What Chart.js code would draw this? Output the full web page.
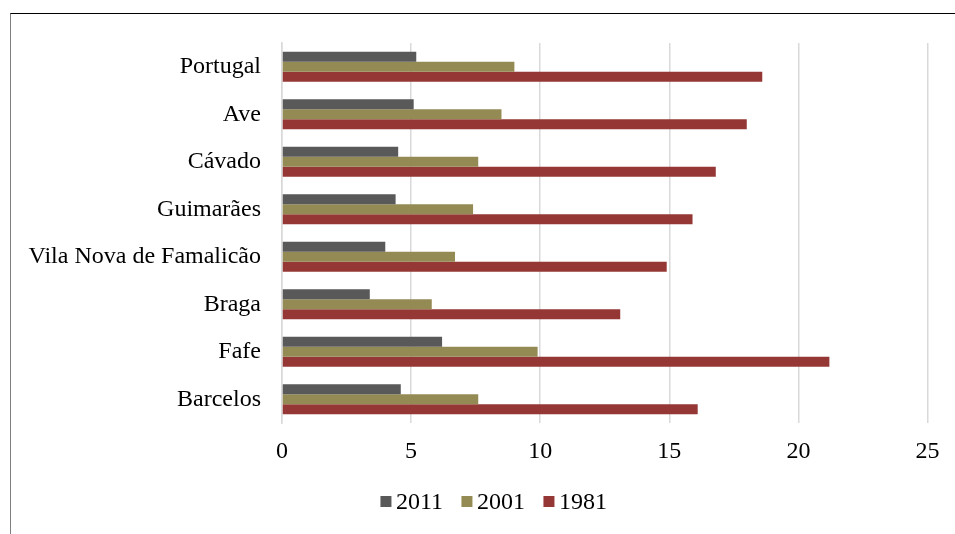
<!DOCTYPE html>
<html>
<head>
<meta charset="utf-8">
<script src="https://cdn.jsdelivr.net/npm/chart.js@4.4.1/dist/chart.umd.min.js"></script>
<style>
  html, body { margin: 0; padding: 0; background: #fff; overflow: hidden; }
  #frame {
    position: absolute;
    left: 10px;
    top: 13px;
    width: 944px;
    height: 521px;
    border-left: 1px solid #7f7f7f;
    border-top: 1px solid #000;
  }
  #myChart { display: block; }
  #legend {
    position: absolute;
    left: 493.5px;
    top: 489px;
    transform: translateX(-50%);
    font-family: "Liberation Serif", "Times New Roman", serif;
    font-size: 24px;
    line-height: 24px;
    color: #000;
  }
</style>
</head>
<body>
<div id="frame"><canvas id="myChart" width="944" height="521"></canvas></div>
<div id="legend"></div>
<script>
const regions = ['Portugal', 'Ave', 'Cávado', 'Guimarães', 'Vila Nova de Famalicão', 'Braga', 'Fafe', 'Barcelos'];
const years = ['2011', '2001', '1981'];
const values2011 = [5.2, 5.1, 4.5, 4.4, 4.0, 3.4, 6.2, 4.6];
const values2001 = [9.0, 8.5, 7.6, 7.4, 6.7, 5.8, 9.9, 7.6];
const values1981 = [18.6, 18.0, 16.8, 15.9, 14.9, 13.1, 21.2, 16.1];
const xTicks = [0, 5, 10, 15, 20, 25];

const colors = ['#595959', '#948A54', '#953735'];
const serif = '"Liberation Serif", "Times New Roman", serif';

// legend as plain html so the box/text spacing can be set freely
const htmlLegendPlugin = {
  id: 'htmlLegend',
  afterUpdate(chart) {
    const container = document.getElementById('legend');
    let ul = container.querySelector('ul');
    if (!ul) {
      ul = document.createElement('ul');
      ul.style.display = 'flex';
      ul.style.flexDirection = 'row';
      ul.style.margin = 0;
      ul.style.padding = 0;
      ul.style.listStyle = 'none';
      container.appendChild(ul);
    }
    while (ul.firstChild) {
      ul.firstChild.remove();
    }

    const items = chart.options.plugins.legend.labels.generateLabels(chart);
    items.forEach((item, i) => {
      const li = document.createElement('li');
      li.style.display = 'flex';
      li.style.alignItems = 'center';
      li.style.marginLeft = i === 0 ? '0' : '18px';

      const box = document.createElement('span');
      box.style.display = 'inline-block';
      box.style.width = '11px';
      box.style.height = '11px';
      box.style.marginRight = '5px';
      box.style.background = item.fillStyle;

      const text = document.createElement('span');
      text.textContent = item.text;

      li.appendChild(box);
      li.appendChild(text);
      ul.appendChild(li);
    });
  },
};

const data = {
  labels: regions,
  datasets: [values2011, values2001, values1981].map((vals, i) => ({
    label: years[i],
    data: vals,
    backgroundColor: colors[i],
    borderColor: colors[i],
    borderWidth: 0,
    categoryPercentage: 0.63,
    barPercentage: 1,
  })),
};

const config = {
  type: 'bar',
  data,
  options: {
    indexAxis: 'y',
    responsive: false,
    animation: false,
    events: [],
    layout: {
      padding: { left: 0, right: 27.5, top: 29, bottom: 52 },
    },
    scales: {
      x: {
        min: xTicks[0],
        max: xTicks[xTicks.length - 1],
        afterBuildTicks: (scale) => {
          scale.ticks = xTicks.map(v => ({ value: v }));
        },
        afterFit: (scale) => { scale.height = 60; },
        grid: {
          color: '#d9d9d9',
          lineWidth: 1.5,
          drawTicks: false,
        },
        border: { display: false },
        ticks: {
          padding: 14,
          maxRotation: 0,
          color: '#000',
          font: { family: serif, size: 24 },
        },
      },
      y: {
        afterFit: (scale) => {
          // fixed label column; labels sit inside the category bands
          scale.width = 271;
          scale.paddingTop = 0;
          scale.paddingBottom = 0;
        },
        grid: { display: false, drawTicks: false },
        border: { display: true, color: '#d9d9d9', width: 1.5 },
        ticks: {
          padding: 21,
          color: '#000',
          font: { family: serif, size: 24 },
        },
      },
    },
    plugins: {
      tooltip: { enabled: false },
      legend: { display: false },
      htmlLegend: { containerID: 'legend' },
    },
  },
  plugins: [htmlLegendPlugin],
};

const myChart = new Chart(document.getElementById('myChart'), config);
</script>
</body>
</html>
